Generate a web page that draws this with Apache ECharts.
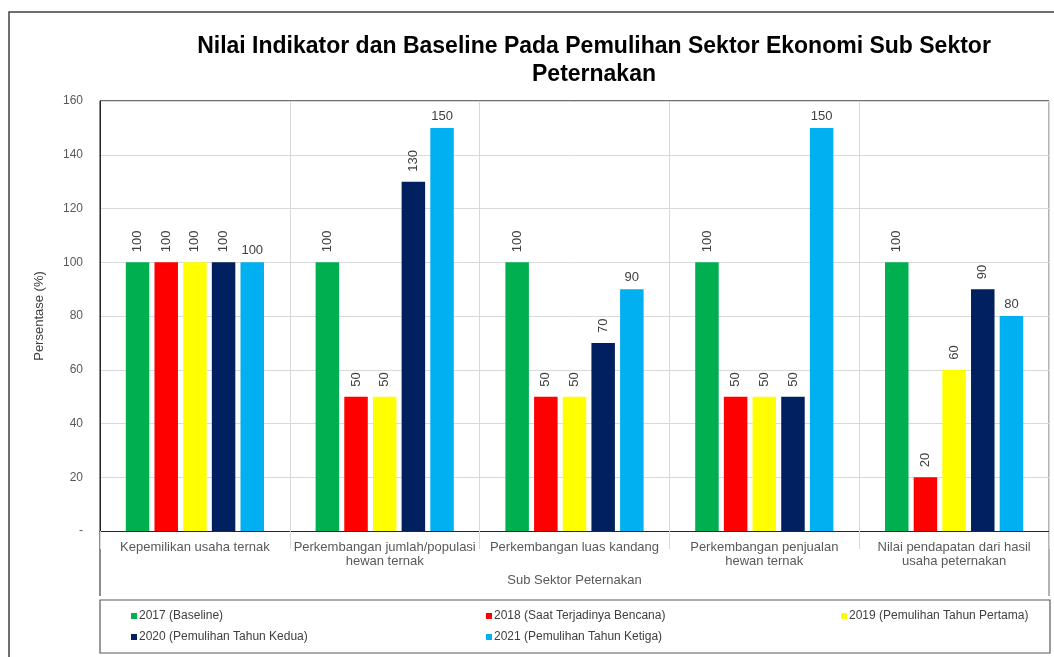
<!DOCTYPE html>
<html>
<head>
<meta charset="utf-8">
<script src="https://cdn.jsdelivr.net/npm/echarts@6/dist/echarts.min.js"></script>
<style>html,body{margin:0;padding:0;background:#fff;}#c{width:1054px;height:657px;}</style>
</head>
<body>
<div id="c"></div>
<script>
var categories = [
  'Kepemilikan usaha ternak',
  'Perkembangan jumlah/populasi\nhewan ternak',
  'Perkembangan luas kandang',
  'Perkembangan penjualan\nhewan ternak',
  'Nilai pendapatan dari hasil\nusaha peternakan'
];
var seriesNames = [
  '2017 (Baseline)',
  '2018 (Saat Terjadinya Bencana)',
  '2019 (Pemulihan Tahun Pertama)',
  '2020 (Pemulihan Tahun Kedua)',
  '2021 (Pemulihan Tahun Ketiga)'
];
var v2017 = [100, 100, 100, 100, 100];
var v2018 = [100, 50, 50, 50, 20];
var v2019 = [100, 50, 50, 50, 60];
var v2020 = [100, 130, 70, 50, 90];
var v2021 = [100, 150, 90, 150, 80];
var colors = ['#00B050', '#FF0000', '#FFFF00', '#002060', '#00B0F0'];
var yTickLabels = {0: '-'};

var F = 'Liberation Sans, Arial, sans-serif';
var allValues = [v2017, v2018, v2019, v2020, v2021];

var series = allValues.map(function (vals, i) {
  var horiz = (i === 4);
  return {
    name: seriesNames[i],
    type: 'bar',
    data: vals,
    barWidth: 23.5,
    barGap: '22%',
    itemStyle: {color: colors[i]},
    label: horiz ? {
      show: true, position: 'top', distance: 5,
      fontFamily: F, fontSize: 13, color: '#404040'
    } : {
      show: true, position: 'top', rotate: 90, align: 'left', verticalAlign: 'middle',
      distance: 10, fontFamily: F, fontSize: 13, color: '#404040'
    }
  };
});

var chart = echarts.init(document.getElementById('c'));
chart.setOption({
  animation: false,
  backgroundColor: '#fff',
  textStyle: {fontFamily: F},
  title: {
    text: 'Nilai Indikator dan Baseline Pada Pemulihan Sektor Ekonomi Sub Sektor\nPeternakan',
    left: 589, top: 28, textAlign: 'center',
    textStyle: {fontFamily: F, fontSize: 23, fontWeight: 'bold', color: '#000', lineHeight: 28}
  },
  grid: {left: 100, right: 5, top: 101, bottom: 126, containLabel: false},
  legend: [
    {data: [seriesNames[0], seriesNames[3]], orient: 'vertical', left: 126, top: 605, itemGap: 9,
     icon: 'rect', itemWidth: 6, itemHeight: 6, textStyle: {fontFamily: F, fontSize: 12, color: '#404040', padding: [0, 0, 0, -3]}},
    {data: [seriesNames[1], seriesNames[4]], orient: 'vertical', left: 481, top: 605, itemGap: 9,
     icon: 'rect', itemWidth: 6, itemHeight: 6, textStyle: {fontFamily: F, fontSize: 12, color: '#404040', padding: [0, 0, 0, -3]}},
    {data: [seriesNames[2]], orient: 'vertical', left: 836, top: 605, itemGap: 9,
     icon: 'rect', itemWidth: 6, itemHeight: 6, textStyle: {fontFamily: F, fontSize: 12, color: '#404040', padding: [0, 0, 0, -3]}}
  ],
  xAxis: {
    type: 'category',
    data: categories,
    name: 'Sub Sektor Peternakan',
    nameLocation: 'middle',
    nameGap: 43,
    nameTextStyle: {fontFamily: F, fontSize: 13, color: '#595959'},
    axisLine: {lineStyle: {color: '#262626', width: 1}},
    axisTick: {show: true, length: 18, lineStyle: {color: '#d9d9d9'}},
    axisLabel: {fontFamily: F, fontSize: 13, color: '#595959', margin: 9, lineHeight: 14, interval: 0},
    splitLine: {show: true, lineStyle: {color: '#d9d9d9'}}
  },
  yAxis: {
    type: 'value',
    min: 0, max: 160, interval: 20,
    name: 'Persentase (%)',
    nameLocation: 'middle',
    nameRotate: 90,
    nameGap: 54,
    nameTextStyle: {fontFamily: F, fontSize: 13, color: '#404040'},
    axisLine: {show: true, lineStyle: {color: '#262626', width: 1}},
    axisTick: {show: false},
    axisLabel: {fontFamily: F, fontSize: 12, color: '#595959', margin: 17,
      formatter: function (v) { return yTickLabels[v] !== undefined ? yTickLabels[v] : String(v); }},
    splitLine: {show: true, lineStyle: {color: '#d9d9d9'}}
  },
  graphic: [
    {type: 'rect', shape: {x: 9, y: 12, width: 1080, height: 700}, style: {fill: 'none', stroke: '#404040', lineWidth: 1.5}, silent: true, z: -1},
    {type: 'line', shape: {x1: 100, y1: 101, x2: 1049, y2: 101}, style: {stroke: '#404040', lineWidth: 1.5}, silent: true},
    {type: 'line', shape: {x1: 100, y1: 101, x2: 100, y2: 596}, style: {stroke: '#404040', lineWidth: 1.2}, silent: true},
    {type: 'line', shape: {x1: 1049, y1: 101, x2: 1049, y2: 596}, style: {stroke: '#808080', lineWidth: 1.2}, silent: true},
    {type: 'rect', shape: {x: 100, y: 600, width: 950, height: 53}, style: {fill: 'none', stroke: '#595959', lineWidth: 1.2}, silent: true}
  ],
  series: series
});
</script>
</body>
</html>
